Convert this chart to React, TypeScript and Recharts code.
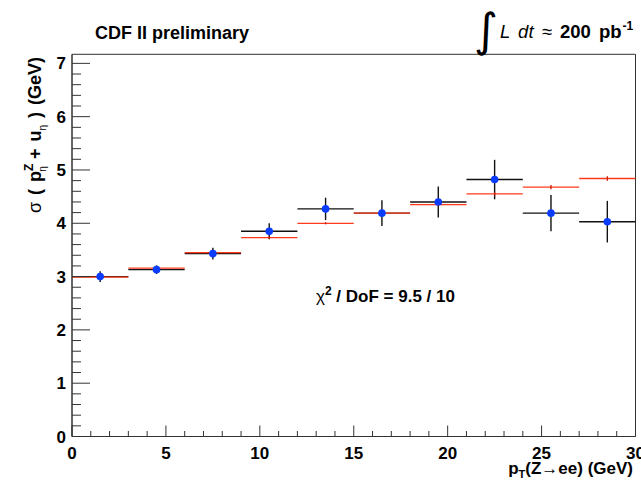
import React from 'react';
import { ComposedChart, Scatter, XAxis, YAxis, ErrorBar, ReferenceArea } from 'recharts';

const FONT = '"Liberation Sans", Arial, Helvetica, sans-serif';

// pT(Z->ee) bins, 3 GeV wide
const binCenters = [1.5, 4.5, 7.5, 10.5, 13.5, 16.5, 19.5, 22.5, 25.5, 28.5];
const binHalfWidth = [1.5, 1.5, 1.5, 1.5, 1.5, 1.5, 1.5, 1.5, 1.5, 1.5];

// measured resolution (blue points, black errors)
const sigmaData = [3.0, 3.13, 3.43, 3.85, 4.27, 4.19, 4.4, 4.82, 4.19, 4.03];
const sigmaDataErr = [0.1, 0.08, 0.11, 0.15, 0.21, 0.24, 0.29, 0.37, 0.34, 0.39];

// simulation (red)
const sigmaModel = [2.99, 3.16, 3.45, 3.73, 4.0, 4.19, 4.35, 4.55, 4.68, 4.84];
const sigmaModelErr = [0.01, 0.01, 0.01, 0.02, 0.02, 0.02, 0.03, 0.03, 0.04, 0.04];

const xMajorTicks = [0, 5, 10, 15, 20, 25, 30];
const yMajorTicks = [0, 1, 2, 3, 4, 5, 6, 7];

const xTicks: number[] = [];
for (let i = 0; i <= 30; i++) xTicks.push(i);
const yTicks: number[] = [];
for (let i = 0; i <= 35; i++) yTicks.push(Math.round(i * 2) / 10);

const dataPts = binCenters.map((x, i) => ({ x, y: sigmaData[i], ex: binHalfWidth[i], ey: sigmaDataErr[i] }));
const modelPts = binCenters.map((x, i) => ({ x, y: sigmaModel[i], ex: binHalfWidth[i], ey: sigmaModelErr[i] }));

const AXIS = '#333';

const XTick = (props: any) => {
  const { x, y, payload } = props;
  const v = payload.value;
  const major = xMajorTicks.includes(v);
  return (
    <g>
      <line x1={x} x2={x} y1={y} y2={y - (major ? 11 : 5.5)} stroke={AXIS} />
      {major && (
        <text x={x} y={y + 22} textAnchor="middle" fontSize={17} fontWeight="bold" fontFamily={FONT} fill="#000">
          {v}
        </text>
      )}
    </g>
  );
};

const YTick = (props: any) => {
  const { x, y, payload } = props;
  const v = payload.value;
  const major = yMajorTicks.includes(v);
  return (
    <g>
      <line x1={x} x2={x + (major ? 18 : 9)} y1={y} y2={y} stroke={AXIS} />
      {major && (
        <text x={x - 6} y={y + 6} textAnchor="end" fontSize={17} fontWeight="bold" fontFamily={FONT} fill="#000">
          {v}
        </text>
      )}
    </g>
  );
};

const Dot = (props: any) => <circle cx={props.cx} cy={props.cy} r={3.8} fill="#0a3cff" />;
const Nothing = () => <g />;

export default function App() {
  return (
    <div style={{ position: 'absolute', left: 0, top: 0, width: 641, height: 480, background: '#fff' }}>
      <ComposedChart width={641} height={480} margin={{ top: 54.3, right: 5.5, bottom: 0, left: 0 }}>
        <XAxis
          dataKey="x"
          type="number"
          domain={[0, 30]}
          allowDataOverflow
          ticks={xTicks}
          interval={0}
          tickSize={0}
          tickMargin={0}
          tickLine={false}
          tick={<XTick />}
          height={43.5}
          axisLine={{ stroke: AXIS }}
        />
        <YAxis
          dataKey="y"
          type="number"
          domain={[0, 7.17]}
          allowDataOverflow
          ticks={yTicks}
          interval={0}
          tickSize={0}
          tickMargin={0}
          tickLine={false}
          tick={<YTick />}
          width={72}
          axisLine={{ stroke: AXIS }}
        />
        <ReferenceArea x1={0} x2={30} y1={0} y2={7.17} fill="none" stroke={AXIS} strokeWidth={1} />
        <Scatter data={dataPts} shape={<Nothing />} isAnimationActive={false}>
          <ErrorBar dataKey="ex" direction="x" width={0} stroke="#111" strokeWidth={1.4} />
          <ErrorBar dataKey="ey" direction="y" width={0} stroke="#111" strokeWidth={1.4} />
        </Scatter>
        <Scatter data={modelPts} shape={<Nothing />} isAnimationActive={false}>
          <ErrorBar dataKey="ex" direction="x" width={0} stroke="#ff3a1a" strokeWidth={1.3} />
          <ErrorBar dataKey="ey" direction="y" width={0} stroke="#cc1a00" strokeWidth={1.3} />
        </Scatter>
        <Scatter data={dataPts} shape={<Dot />} isAnimationActive={false} />
      </ComposedChart>
      <svg width={641} height={480} style={{ position: 'absolute', left: 0, top: 0, pointerEvents: 'none' }} fontFamily={FONT}>
        <text x={95} y={39} fontSize={18} fontWeight="bold" fill="#000">CDF II preliminary</text>
        <text x={474} y={46} fontSize={46} fontFamily="DejaVu Sans" fill="#000">∫</text>
        <text x={500} y={38} fontSize={18.5} wordSpacing={3} fill="#000">
          <tspan fontStyle="italic">L dt</tspan>
          <tspan> ≈ </tspan>
          <tspan fontWeight="bold">200 pb</tspan>
          <tspan fontWeight="bold" fontSize={12} dx={1} dy={-8}>-1</tspan>
        </text>
        <text transform="translate(41,57) rotate(-90)" textAnchor="end" fontSize={18} wordSpacing={2} fontWeight="bold" fill="#000">
          <tspan fontWeight="normal">σ</tspan>
          <tspan> ( p</tspan>
          <tspan fontSize={12} dy={-8}>Z</tspan>
          <tspan fontSize={10} fontWeight="normal" dx={-8} dy={13}>η</tspan>
          <tspan dy={-5}> + u</tspan>
          <tspan fontSize={10} fontWeight="normal" dy={5}>η</tspan>
          <tspan dy={-5}> ) (GeV)</tspan>
        </text>
        <text x={316} y={302} fontSize={17} fontWeight="bold" fill="#000">
          <tspan fontWeight="normal">χ</tspan>
          <tspan fontSize={12} dy={-7}>2</tspan>
          <tspan dy={7}> / DoF = 9.5 / 10</tspan>
        </text>
        <text x={633} y={474} textAnchor="end" fontSize={17} fontWeight="bold" fill="#000">
          p<tspan fontSize={11} dy={4}>T</tspan>
          <tspan dy={-4}>(Z→ee) (GeV)</tspan>
        </text>
      </svg>
    </div>
  );
}
